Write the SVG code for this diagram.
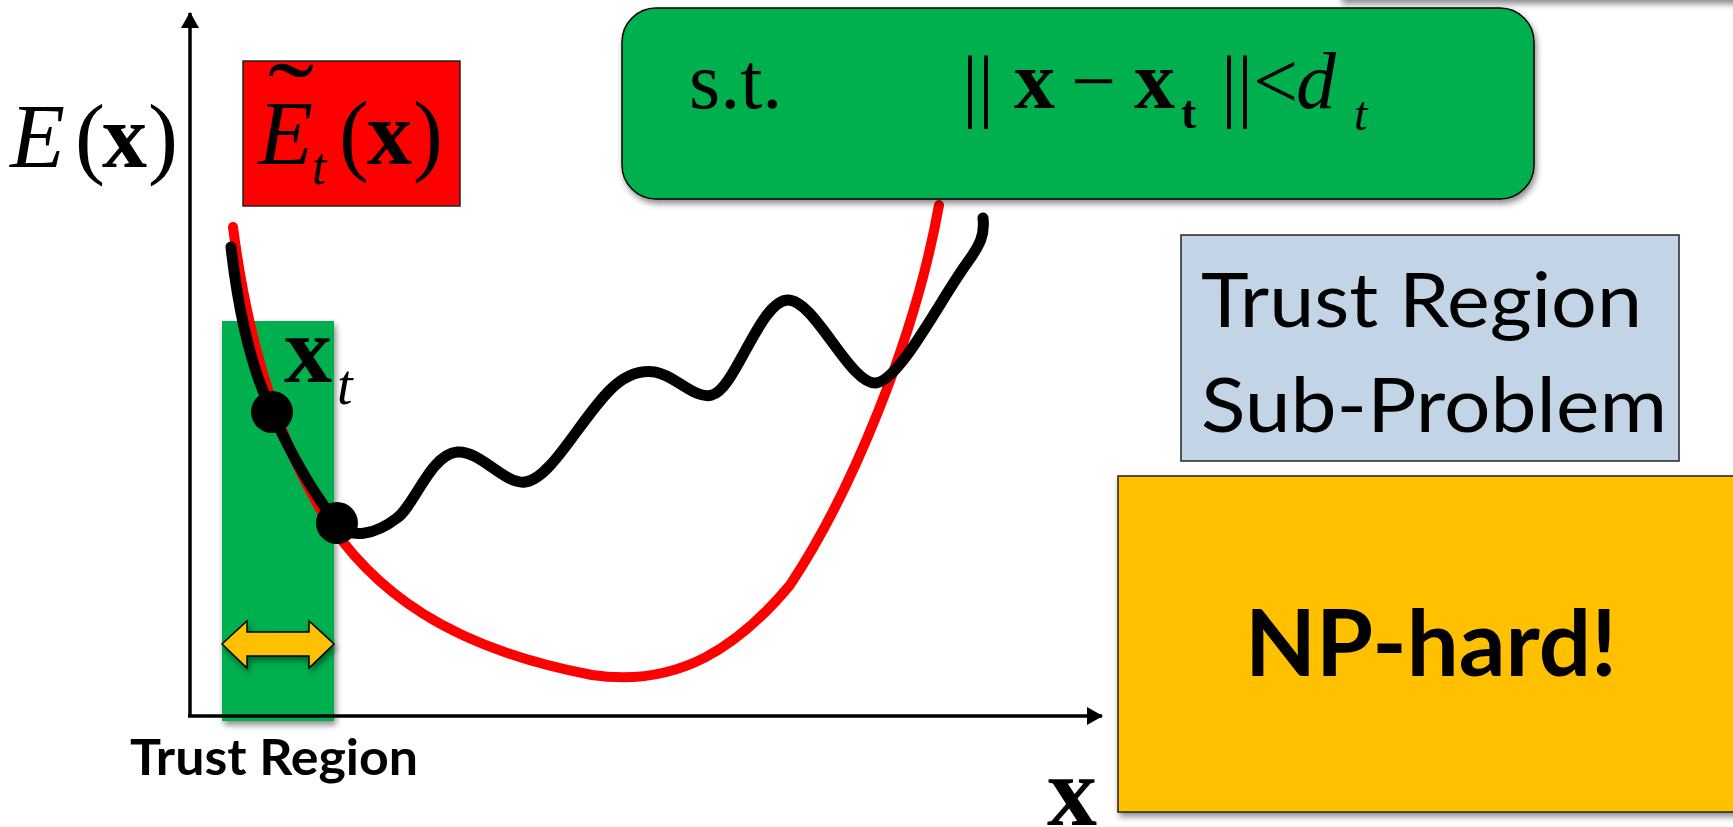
<svg xmlns="http://www.w3.org/2000/svg" width="1733" height="827" viewBox="0 0 1733 827">
<defs>
<filter id="sh" x="-10%" y="-10%" width="130%" height="140%">
<feDropShadow dx="2" dy="4" stdDeviation="3" flood-color="#000" flood-opacity="0.45"/>
</filter>
<marker id="ah" viewBox="0 0 16 18" refX="15" refY="9" markerWidth="16" markerHeight="18" markerUnits="userSpaceOnUse" orient="auto">
<path d="M0,0 L16,9 L0,18 Z" fill="#000"/>
</marker>
<style>
.serif{font-family:"Liberation Serif","Times New Roman",serif;fill:#000}
.sans{font-family:Lato,"Open Sans",sans-serif;fill:#000}
.bx{stroke:#222;stroke-width:1.5}
.curve{fill:none;stroke-linecap:round;stroke-linejoin:round}
</style>
</defs>
<rect width="1733" height="827" fill="#fff"/>

<!-- off-screen box shadow at top right -->
<rect x="1340" y="-60" width="420" height="60" fill="#fff" filter="url(#sh)"/>

<g id="trust-region-band">
<rect x="222" y="321" width="112" height="400" fill="#00B050" filter="url(#sh)"/>
</g>

<g id="connectors">
<line x1="190" y1="716" x2="190" y2="13" stroke="#000" stroke-width="3.5" marker-end="url(#ah)"/>
<line x1="188" y1="716" x2="1102" y2="716" stroke="#000" stroke-width="3.5" marker-end="url(#ah)"/>
</g>

<g id="curves">
<path id="approx" class="curve" stroke="#FF0000" stroke-width="10" d="M233,227 C245,320 270,425 322,512 C372,592 450,648 592,675 C680,688 740,645 790,585 C850,495 915,340 939,205"/>
<path id="energy" class="curve" stroke="#000" stroke-width="11" d="M231,247 C238,310 252,370 272,412 C290,452 312,492 337,523 C350,540 375,535 397,518 C415,505 430,455 457,452 C480,450 505,485 525,482 C550,480 580,420 610,390 C625,375 640,370 655,372 C675,375 695,400 712,395 C735,390 760,300 788,300 C815,300 850,385 876,383 C900,380 940,300 967,263 C980,245 985,235 983,218"/>
</g>

<g id="points">
<circle cx="272" cy="412" r="21" fill="#000"/>
<circle cx="337" cy="523" r="21" fill="#000"/>
</g>

<g id="xt-label">
<text class="serif" x="284" y="382" font-size="96" font-weight="bold">x</text>
<text class="serif" x="337" y="404" font-size="56" font-style="italic">t</text>
</g>

<g id="double-arrow">
<polygon points="222,644 247,621 247,632 309,632 309,621 334,644 309,668 309,656 247,656 247,668" fill="#FFC000" stroke="#000" stroke-width="1.5" stroke-linejoin="miter" filter="url(#sh)"/>
</g>

<g id="y-label">
<text class="serif" y="167" font-size="90"><tspan x="10" font-style="italic">E</tspan><tspan x="75">(</tspan><tspan x="102" font-weight="bold">x</tspan><tspan x="148">)</tspan></text>
</g>

<g id="red-box">
<rect x="243" y="61" width="217" height="145" fill="#FF0000" class="bx"/>
<text class="serif" x="268" y="134" font-size="104" textLength="46" lengthAdjust="spacingAndGlyphs">˜</text>
<text class="serif" y="164" font-size="90"><tspan x="258" font-style="italic">E</tspan></text>
<text class="serif" x="312" y="184" font-size="52" font-style="italic">t</text>
<text class="serif" y="164" font-size="90"><tspan x="339">(</tspan><tspan x="367" font-weight="bold">x</tspan><tspan x="413">)</tspan></text>
</g>

<g id="constraint-box">
<rect x="622" y="8" width="912" height="191" rx="34" ry="34" fill="#00B050" stroke="#000" stroke-width="1.5" filter="url(#sh)"/>
<text class="serif" x="689" y="108" font-size="80">s.t.</text>
<text class="serif" y="112" font-size="80"><tspan x="962">|</tspan><tspan x="978">|</tspan></text>
<text class="serif" x="1014" y="108" font-size="82" font-weight="bold">x</text>
<text class="serif" x="1071" y="108" font-size="80">−</text>
<text class="serif" x="1134" y="108" font-size="82" font-weight="bold">x</text>
<text class="serif" x="1181" y="128" font-size="46" font-weight="bold">t</text>
<text class="serif" y="112" font-size="80"><tspan x="1221">|</tspan><tspan x="1237">|</tspan></text>
<text class="serif" x="1253" y="108" font-size="80">&lt;</text>
<text class="serif" x="1296" y="108" font-size="80" font-style="italic">d</text>
<text class="serif" x="1354" y="130" font-size="48" font-style="italic">t</text>
</g>

<g id="subproblem-box">
<rect x="1181" y="235" width="498" height="226" fill="#C2D4E6" class="bx"/>
<text class="sans" x="1201" y="327" font-size="75" textLength="441" lengthAdjust="spacingAndGlyphs">Trust Region</text>
<text class="sans" x="1201" y="432" font-size="75" textLength="466" lengthAdjust="spacingAndGlyphs">Sub-Problem</text>
</g>

<g id="nphard-box">
<rect x="1118" y="476" width="640" height="336" fill="#FFC000" class="bx" filter="url(#sh)"/>
<text class="sans" x="1245" y="676" font-size="92" font-weight="bold" textLength="372" lengthAdjust="spacingAndGlyphs">NP-hard!</text>
</g>

<g id="x-label">
<text class="serif" x="1047" y="825" font-size="100" font-weight="bold">x</text>
</g>

<g id="trust-region-label">
<text class="sans" x="130" y="775" font-size="49" font-weight="bold" textLength="288" lengthAdjust="spacingAndGlyphs">Trust Region</text>
</g>
</svg>
